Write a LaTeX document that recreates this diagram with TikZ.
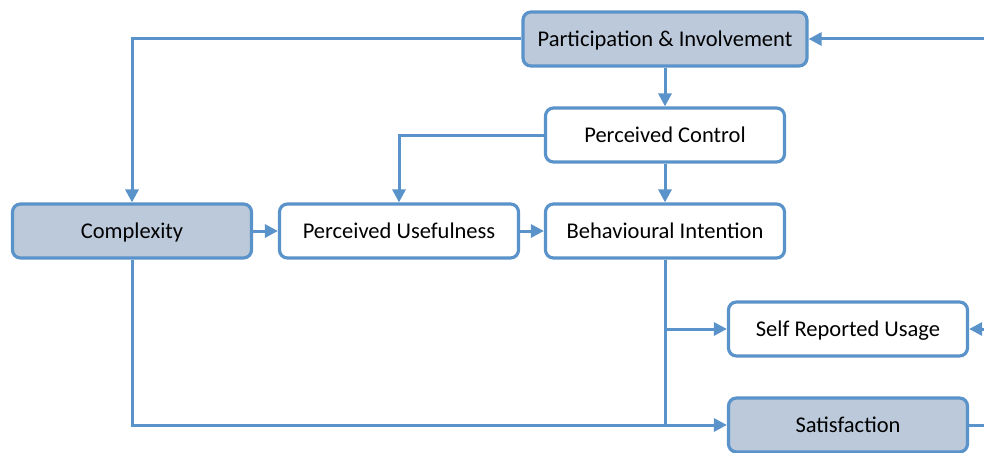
\documentclass[tikz,border=0pt]{standalone}
\usepackage{fontspec}
\setmainfont{Carlito}
\usetikzlibrary{arrows.meta}
\definecolor{edgeblue}{HTML}{5A92CA}
\definecolor{boxfill}{HTML}{BBC9DA}
\tikzset{
  box/.style={draw=edgeblue, line width=3.2pt, rounded corners=8pt,
    minimum width=239pt, minimum height=54pt, inner sep=0pt,
    text height=17.5pt, text depth=2pt,
    font=\fontsize{22.5}{26}\selectfont, fill=white},
  keybox/.style={box, fill=boxfill},
  link/.style={draw=edgeblue, line width=3pt,
    -{Triangle[length=13pt,width=13pt]}},
  plain/.style={draw=edgeblue, line width=3pt}
}
\begin{document}
\begin{tikzpicture}[x=1pt,y=-1pt]
\useasboundingbox (0,0) rectangle (984,452);
\node[keybox, minimum width=284pt] (part) at (665,39) {Participation \& Involvement};
\node[box] (ctrl) at (665,135) {Perceived Control};
\node[keybox] (cplx) at (132,231) {Complexity};
\node[box] (use) at (399,231) {Perceived Usefulness};
\node[box] (bi) at (665,231) {Behavioural Intention};
\node[box] (sru) at (848,329) {Self Reported Usage};
\node[keybox] (sat) at (848,425) {Satisfaction};
\coordinate (inP) at (984,39);
\coordinate (inS) at (984,329);
\coordinate (outS) at (984,425);
\coordinate (split) at (665,329);
\coordinate (join) at (665,425);
% feedback arrows entering from the right
\draw[link] (inP) -- (part.east);
\draw[link] (inS) -- (sru.east);
\draw[plain] (sat.east) -- (outS);
% top down paths
\draw[link] (part.west) -| (cplx.north);
\draw[link] (part.south) -- (ctrl.north);
\draw[link] (ctrl.west) -| (use.north);
\draw[link] (ctrl.south) -- (bi.north);
% middle row
\draw[link] (cplx.east) -- (use.west);
\draw[link] (use.east) -- (bi.west);
% outcomes
\draw[plain] (bi.south) -- (join);
\draw[link] (split) -- (sru.west);
\draw[link] (cplx.south) |- (sat.west);
\end{tikzpicture}
\end{document}
